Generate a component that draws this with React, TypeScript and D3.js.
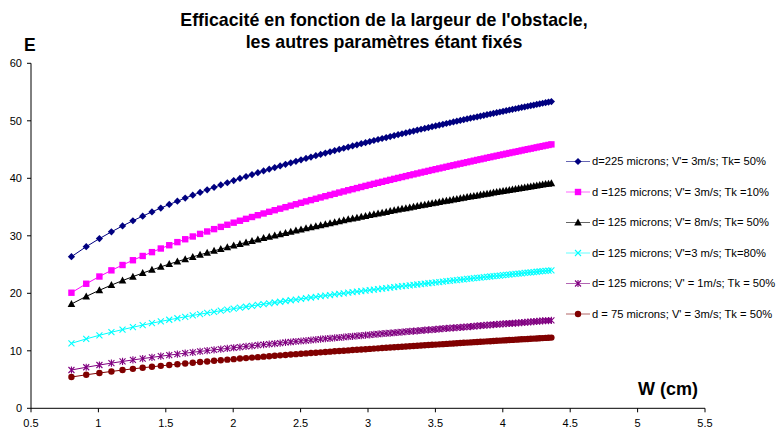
import React from "react";
import * as d3 from "d3";

// W (cm) sample positions
const W_CM = [
  0.8, 0.9097, 1.0075, 1.0966, 1.179, 1.256, 1.3285, 1.3973, 1.4629, 1.5256,
  1.5859, 1.6439, 1.7, 1.7543, 1.8069, 1.8581, 1.9079, 1.9564, 2.0037, 2.05,
  2.0952, 2.1395, 2.1829, 2.2254, 2.2672, 2.3081, 2.3484, 2.388, 2.4269, 2.4653,
  2.503, 2.5402, 2.5768, 2.613, 2.6486, 2.6837, 2.7185, 2.7527, 2.7866, 2.82,
  2.8531, 2.8857, 2.918, 2.95, 2.9816, 3.0129, 3.0438, 3.0745, 3.1048, 3.1349,
  3.1647, 3.1942, 3.2234, 3.2523, 3.281, 3.3095, 3.3377, 3.3656, 3.3934, 3.4209,
  3.4482, 3.4753, 3.5021, 3.5288, 3.5553, 3.5816, 3.6076, 3.6335, 3.6592, 3.6848,
  3.7101, 3.7353, 3.7603, 3.7852, 3.8098, 3.8344, 3.8588, 3.883, 3.9071, 3.931,
  3.9547, 3.9784, 4.0019, 4.0252, 4.0485, 4.0716, 4.0945, 4.1173, 4.14, 4.1626,
  4.1851, 4.2074, 4.2297, 4.2518, 4.2738, 4.2956, 4.3174, 4.3391, 4.3606,
];

const E_D225_V3_TK50 = [
  26.37, 28.11, 29.51, 30.69, 31.72, 32.62, 33.42, 34.16, 34.83, 35.45,
  36.02, 36.56, 37.07, 37.55, 38.0, 38.43, 38.84, 39.23, 39.61, 39.97,
  40.31, 40.65, 40.97, 41.28, 41.58, 41.87, 42.15, 42.43, 42.7, 42.95,
  43.21, 43.45, 43.69, 43.93, 44.16, 44.38, 44.6, 44.82, 45.03, 45.23,
  45.43, 45.63, 45.82, 46.02, 46.2, 46.39, 46.57, 46.75, 46.92, 47.09,
  47.26, 47.43, 47.59, 47.75, 47.91, 48.07, 48.22, 48.38, 48.53, 48.68,
  48.82, 48.97, 49.11, 49.25, 49.39, 49.53, 49.66, 49.8, 49.93, 50.06,
  50.19, 50.32, 50.45, 50.57, 50.7, 50.82, 50.94, 51.06, 51.18, 51.3,
  51.42, 51.53, 51.65, 51.76, 51.88, 51.99, 52.1, 52.21, 52.32, 52.42,
  52.53, 52.64, 52.74, 52.85, 52.95, 53.05, 53.15, 53.25, 53.35,
];

const E_D125_V3_TK10 = [
  20.1, 21.66, 22.92, 23.99, 24.92, 25.75, 26.49, 27.16, 27.79, 28.36,
  28.9, 29.4, 29.88, 30.33, 30.75, 31.16, 31.55, 31.92, 32.28, 32.62,
  32.95, 33.27, 33.58, 33.88, 34.17, 34.45, 34.72, 34.98, 35.24, 35.49,
  35.74, 35.98, 36.21, 36.44, 36.67, 36.89, 37.1, 37.31, 37.52, 37.72,
  37.92, 38.11, 38.3, 38.49, 38.68, 38.86, 39.04, 39.22, 39.39, 39.56,
  39.73, 39.9, 40.06, 40.22, 40.38, 40.54, 40.69, 40.84, 41.0, 41.14,
  41.29, 41.44, 41.58, 41.72, 41.86, 42.0, 42.14, 42.27, 42.41, 42.54,
  42.67, 42.8, 42.93, 43.06, 43.19, 43.31, 43.43, 43.56, 43.68, 43.8,
  43.92, 44.04, 44.15, 44.27, 44.39, 44.5, 44.61, 44.72, 44.84, 44.95,
  45.06, 45.16, 45.27, 45.38, 45.49, 45.59, 45.7, 45.8, 45.9,
];

const E_D125_V8_TK50 = [
  18.14, 19.46, 20.53, 21.43, 22.21, 22.9, 23.52, 24.08, 24.6, 25.08,
  25.52, 25.94, 26.33, 26.7, 27.05, 27.38, 27.7, 28.0, 28.3, 28.58,
  28.85, 29.11, 29.36, 29.6, 29.83, 30.06, 30.28, 30.5, 30.71, 30.91,
  31.11, 31.3, 31.49, 31.67, 31.85, 32.03, 32.2, 32.37, 32.54, 32.7,
  32.86, 33.01, 33.16, 33.31, 33.46, 33.61, 33.75, 33.89, 34.03, 34.16,
  34.3, 34.43, 34.56, 34.69, 34.81, 34.94, 35.06, 35.18, 35.3, 35.42,
  35.54, 35.65, 35.76, 35.88, 35.99, 36.1, 36.2, 36.31, 36.42, 36.52,
  36.63, 36.73, 36.83, 36.93, 37.03, 37.13, 37.22, 37.32, 37.42, 37.51,
  37.6, 37.7, 37.79, 37.88, 37.97, 38.06, 38.15, 38.23, 38.32, 38.41,
  38.49, 38.58, 38.66, 38.75, 38.83, 38.91, 38.99, 39.07, 39.15,
];

const E_D125_V3_TK80 = [
  11.3, 12.07, 12.7, 13.23, 13.69, 14.1, 14.47, 14.81, 15.11, 15.4,
  15.66, 15.91, 16.15, 16.37, 16.58, 16.78, 16.97, 17.15, 17.33, 17.5,
  17.66, 17.82, 17.97, 18.12, 18.26, 18.4, 18.53, 18.66, 18.79, 18.91,
  19.03, 19.15, 19.27, 19.38, 19.49, 19.6, 19.7, 19.8, 19.9, 20.0,
  20.1, 20.2, 20.29, 20.38, 20.47, 20.56, 20.65, 20.74, 20.82, 20.91,
  20.99, 21.07, 21.15, 21.23, 21.31, 21.38, 21.46, 21.53, 21.61, 21.68,
  21.75, 21.82, 21.89, 21.96, 22.03, 22.1, 22.17, 22.23, 22.3, 22.36,
  22.43, 22.49, 22.55, 22.62, 22.68, 22.74, 22.8, 22.86, 22.92, 22.98,
  23.03, 23.09, 23.15, 23.21, 23.26, 23.32, 23.37, 23.43, 23.48, 23.54,
  23.59, 23.64, 23.69, 23.75, 23.8, 23.85, 23.9, 23.95, 24.0,
];

const E_D125_V1_TK50 = [
  6.66, 7.14, 7.53, 7.86, 8.15, 8.41, 8.65, 8.86, 9.06, 9.25,
  9.42, 9.59, 9.74, 9.89, 10.03, 10.16, 10.29, 10.41, 10.53, 10.65,
  10.76, 10.87, 10.97, 11.07, 11.17, 11.26, 11.35, 11.45, 11.53, 11.62,
  11.7, 11.78, 11.87, 11.94, 12.02, 12.1, 12.17, 12.24, 12.31, 12.38,
  12.45, 12.52, 12.59, 12.65, 12.72, 12.78, 12.84, 12.91, 12.97, 13.03,
  13.09, 13.14, 13.2, 13.26, 13.32, 13.37, 13.43, 13.48, 13.53, 13.59,
  13.64, 13.69, 13.74, 13.79, 13.84, 13.89, 13.94, 13.99, 14.04, 14.08,
  14.13, 14.18, 14.22, 14.27, 14.32, 14.36, 14.41, 14.45, 14.49, 14.54,
  14.58, 14.62, 14.67, 14.71, 14.75, 14.79, 14.83, 14.87, 14.91, 14.95,
  14.99, 15.03, 15.07, 15.11, 15.15, 15.19, 15.23, 15.26, 15.3,
];

const E_D75_V3_TK50 = [
  5.44, 5.83, 6.14, 6.41, 6.65, 6.86, 7.05, 7.22, 7.38, 7.53,
  7.67, 7.8, 7.92, 8.04, 8.15, 8.26, 8.36, 8.46, 8.55, 8.65,
  8.73, 8.82, 8.9, 8.98, 9.06, 9.13, 9.21, 9.28, 9.35, 9.42,
  9.48, 9.55, 9.61, 9.67, 9.73, 9.79, 9.85, 9.91, 9.96, 10.02,
  10.07, 10.13, 10.18, 10.23, 10.28, 10.33, 10.38, 10.43, 10.48, 10.52,
  10.57, 10.62, 10.66, 10.71, 10.75, 10.79, 10.84, 10.88, 10.92, 10.96,
  11.0, 11.04, 11.08, 11.12, 11.16, 11.2, 11.24, 11.28, 11.32, 11.35,
  11.39, 11.43, 11.46, 11.5, 11.53, 11.57, 11.6, 11.64, 11.67, 11.71,
  11.74, 11.77, 11.81, 11.84, 11.87, 11.9, 11.94, 11.97, 12.0, 12.03,
  12.06, 12.09, 12.12, 12.15, 12.18, 12.21, 12.24, 12.27, 12.3,
];

const SERIES_NAMES = [
  "d=225 microns; V'= 3m/s; Tk= 50%",
  "d =125 microns; V'= 3m/s; Tk =10%",
  "d= 125 microns; V'= 8m/s; Tk= 50%",
  "d= 125 microns; V'=3 m/s; Tk=80%",
  "d= 125 microns; V' = 1m/s; Tk = 50%",
  "d = 75 microns; V' = 3m/s; Tk = 50%",
];
const SERIES_VALUES = [
  E_D225_V3_TK50,
  E_D125_V3_TK10,
  E_D125_V8_TK50,
  E_D125_V3_TK80,
  E_D125_V1_TK50,
  E_D75_V3_TK50,
];
const SERIES_COLORS = ["#000080", "#FF00FF", "#000000", "#00FFFF", "#800080", "#800000"];
const SERIES_MARKERS = ["diamond", "square", "triangle", "x", "star", "circle"];

const X_TICKS = [0.5, 1, 1.5, 2, 2.5, 3, 3.5, 4, 4.5, 5, 5.5];
const Y_TICKS = [0, 10, 20, 30, 40, 50, 60];

const TITLE_LINES = [
  "Efficacité en fonction de la largeur de l'obstacle,",
  "les autres paramètres étant fixés",
];

const FONT = "Arial, 'Liberation Sans', Helvetica, sans-serif";

function Marker({ kind, color, x, y }: { kind: string; color: string; x: number; y: number }) {
  const t = `translate(${x},${y})`;
  switch (kind) {
    case "diamond":
      return <path transform={t} d="M0,-3.6L3.6,0L0,3.6L-3.6,0Z" fill={color} />;
    case "square":
      return <path transform={t} d="M-3.2,-3.2h6.4v6.4h-6.4Z" fill={color} />;
    case "triangle":
      return <path transform={t} d="M0,-4L3.8,3L-3.8,3Z" fill={color} />;
    case "x":
      return (
        <path transform={t} d="M-3,-3L3,3M-3,3L3,-3" stroke={color} strokeWidth={1.1} fill="none" />
      );
    case "star":
      return (
        <path
          transform={t}
          d="M-3,-3L3,3M-3,3L3,-3M0,-3.6V3.6"
          stroke={color}
          strokeWidth={1.1}
          fill="none"
        />
      );
    default:
      return <circle cx={x} cy={y} r={3.2} fill={color} />;
  }
}

export default function App() {
  const width = 776;
  const height = 429;
  const xScale = d3.scaleLinear().domain([0.5, 5.5]).range([31, 705]);
  const yScale = d3.scaleLinear().domain([0, 60]).range([408.3, 63.3]);
  const line = d3
    .line<[number, number]>()
    .x((d) => xScale(d[0]))
    .y((d) => yScale(d[1]));

  const legendX = 566;
  const legendY0 = 161.5;
  const legendStep = 30.5;

  return (
    <svg
      width={width}
      height={height}
      style={{ position: "absolute", left: 0, top: 0, background: "#fff" }}
      fontFamily={FONT}
    >
      <rect x={0} y={0} width={width} height={height} fill="#fff" />
      {/* title */}
      {TITLE_LINES.map((t, i) => (
        <text
          key={t}
          x={384}
          y={26 + i * 21.5}
          textAnchor="middle"
          fontSize={17.8}
          fontWeight="bold"
          fill="#000"
        >
          {t}
        </text>
      ))}
      {/* axis titles */}
      <text x={24} y={51} fontSize={17.5} fontWeight="bold" fill="#000">
        E
      </text>
      <text x={638} y={395} fontSize={18} fontWeight="bold" fill="#000">
        W (cm)
      </text>

      {/* axes */}
      <line x1={31} x2={31} y1={yScale(60)} y2={yScale(0)} stroke="#000" strokeWidth={1} />
      <line x1={31} x2={xScale(5.5)} y1={yScale(0)} y2={yScale(0)} stroke="#000" strokeWidth={1} />
      {Y_TICKS.map((v) => (
        <g key={`y${v}`}>
          <line x1={27} x2={31} y1={yScale(v)} y2={yScale(v)} stroke="#000" />
          <text x={22} y={yScale(v)} dy="0.35em" textAnchor="end" fontSize={11} fill="#000">
            {v}
          </text>
        </g>
      ))}
      {X_TICKS.map((v) => (
        <g key={`x${v}`}>
          <line x1={xScale(v)} x2={xScale(v)} y1={yScale(0)} y2={yScale(0) + 4} stroke="#000" />
          <text x={xScale(v)} y={427} textAnchor="middle" fontSize={11} fill="#000">
            {v}
          </text>
        </g>
      ))}

      {/* series */}
      {SERIES_VALUES.map((vals, si) => {
        const pts: [number, number][] = vals.map((v, i) => [W_CM[i], v]);
        const color = SERIES_COLORS[si];
        return (
          <g key={SERIES_NAMES[si]}>
            <path d={line(pts) || ""} fill="none" stroke={color} strokeWidth={1} />
            {pts.map((p, i) => (
              <Marker key={i} kind={SERIES_MARKERS[si]} color={color} x={xScale(p[0])} y={yScale(p[1])} />
            ))}
          </g>
        );
      })}

      {/* legend */}
      {SERIES_NAMES.map((name, i) => {
        const cy = legendY0 + i * legendStep;
        const color = SERIES_COLORS[i];
        return (
          <g key={`leg${i}`}>
            <line
              x1={legendX}
              x2={legendX + 24}
              y1={cy}
              y2={cy}
              stroke={color}
              strokeWidth={1}
              strokeOpacity={0.6}
            />
            <Marker kind={SERIES_MARKERS[i]} color={color} x={legendX + 12} y={cy} />
            <text x={legendX + 26} y={cy} dy="0.35em" fontSize={11.2} fill="#000">
              {name}
            </text>
          </g>
        );
      })}
    </svg>
  );
}
